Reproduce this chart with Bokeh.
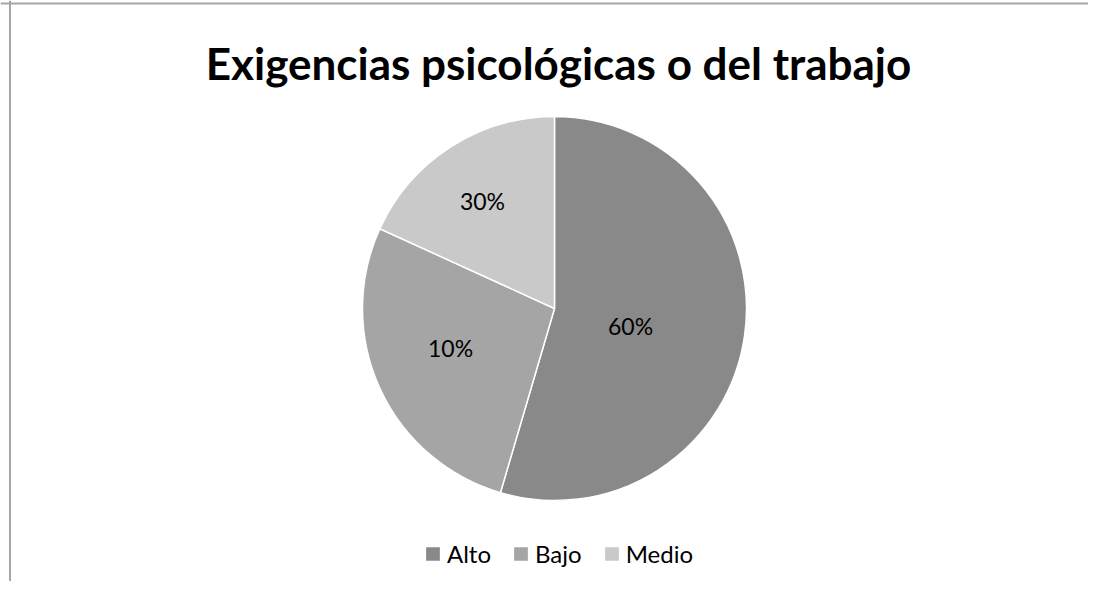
import math
from bokeh.plotting import figure
from bokeh.models import Range1d, ColumnDataSource, Legend, LegendItem, Span
from bokeh.core.properties import value
from bokeh.embed import file_html
from bokeh.resources import INLINE

# ---- data ----
title_text = "Exigencias psicológicas o del trabajo"
categories = ["Alto", "Bajo", "Medio"]
counts = [6, 3, 2]
label_texts = ["60%", "10%", "30%"]
colors = ["#898989", "#a5a5a5", "#c9c9c9"]

# ---- layout ----
W, H = 1088, 581
PAGE_OFF = 0


def px(page_x):
    return page_x - PAGE_OFF


def py(page_y):
    return H + PAGE_OFF - page_y


cx, cy, R = px(554), py(308), 192
label_frac = [0.407, 0.58, 0.676]
label_nudge_deg = [5.0, 3.5, -1.0]

p = figure(width=W, height=H, output_backend="svg", toolbar_location=None,
           x_range=Range1d(0, W), y_range=Range1d(0, H), min_border=0,
           outline_line_color=None, background_fill_color="white",
           border_fill_color="white")
p.axis.visible = False
p.grid.visible = False

total = sum(counts)
starts, ends, lx, ly = [], [], [], []
cum = 0.0
for i, c in enumerate(counts):
    a0 = cum / total * 2 * math.pi
    cum += c
    a1 = cum / total * 2 * math.pi
    starts.append(math.pi / 2 - a0)
    ends.append(math.pi / 2 - a1)
    mid = (a0 + a1) / 2 + math.radians(label_nudge_deg[i])
    r = label_frac[i] * R
    lx.append(cx + r * math.sin(mid))
    ly.append(cy + r * math.cos(mid))

src = ColumnDataSource(dict(cat=categories, val=counts, start=starts, end=ends,
                            color=colors, lab=label_texts, lx=lx, ly=ly))

wr = p.wedge(x=cx, y=cy, radius=R, start_angle="start", end_angle="end",
             direction="clock", fill_color="color", line_color="white",
             line_width=1.5, source=src)

p.text(x="lx", y="ly", text="lab", source=src, text_font=value("Lato"),
       text_font_size="23px", text_color="#000000", text_align="center",
       text_baseline="middle")

# title
p.text(x=[px(558)], y=[py(62)], text=[title_text], text_font=value("Lato"),
       text_font_size="44px", text_font_style="bold", text_color="#000000",
       text_align="center", text_baseline="middle")

# border (top and left)
p.add_layout(Span(location=px(9.5), dimension="height", line_color="#a6a6a6", line_width=2))
p.add_layout(Span(location=py(3), dimension="width", line_color="#a6a6a6", line_width=2))

legend = Legend(items=[LegendItem(label=categories[i], renderers=[wr], index=i)
                       for i in range(len(categories))],
                orientation="horizontal", location=(px(423), 13),
                glyph_width=19, glyph_height=19, label_standoff=5, spacing=20,
                padding=0, margin=0, border_line_color=None,
                background_fill_alpha=0, label_text_font="Lato",
                label_text_font_size="24px", label_text_color="#000000")
p.add_layout(legend, "center")

open("out.html", "w").write(file_html(p, INLINE))
